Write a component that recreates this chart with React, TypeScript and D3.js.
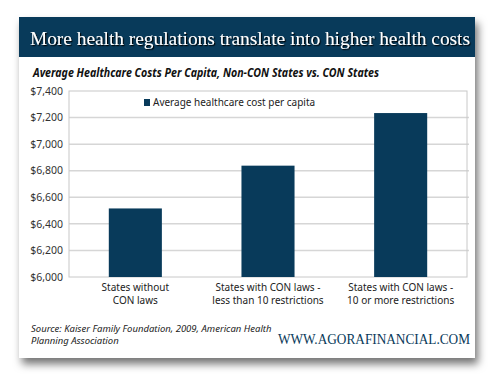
import * as d3 from 'd3';

const categories = [
  ['States without', 'CON laws'],
  ['States with CON laws -', 'less than 10 restrictions'],
  ['States with CON laws -', '10 or more restrictions'],
];
const costs = [6516, 6838, 7234];
const yTicks = [6000, 6200, 6400, 6600, 6800, 7000, 7200, 7400];
const seriesName = 'Average healthcare cost per capita';

const title = 'More health regulations translate into higher health costs';
const subtitle = 'Average Healthcare Costs Per Capita, Non-CON States vs. CON States';
const sourceLines = ['Source:  Kaiser Family Foundation, 2009, American Health', 'Planning Association'];
const brand = 'WWW.AGORAFINANCIAL.COM';

export default function App() {
  const width = 500;
  const height = 385;
  const navy = '#083a5a';
  const sans = "'Noto Sans', 'Open Sans', sans-serif";
  const serif = "'Liberation Serif', 'DejaVu Serif', serif";

  // plot area
  const left = 69;
  const right = 467;
  const top = 91;
  const bottom = 277;

  const x = d3
    .scaleBand<number>()
    .domain(d3.range(categories.length))
    .range([left, right])
    .paddingInner(0.6)
    .paddingOuter(0.3);
  const y = d3.scaleLinear().domain([6000, 7400]).range([bottom, top]);
  const fmt = d3.format('$,');

  return (
    <svg
      width={width}
      height={height}
      viewBox={`0 0 ${width} ${height}`}
      style={{ position: 'absolute', left: 0, top: 0, display: 'block', background: '#fff' }}
    >
      <defs>
        <filter id="cardShadow" x="-10%" y="-10%" width="125%" height="130%">
          <feDropShadow dx="3" dy="6" stdDeviation="4.5" floodColor="#000" floodOpacity="0.55" />
        </filter>
        <filter id="titleShadow" x="-5%" y="-30%" width="110%" height="160%">
          <feDropShadow dx="1.2" dy="1.2" stdDeviation="0.6" floodColor="#000" floodOpacity="0.9" />
        </filter>
      </defs>

      {/* card */}
      <rect x={19} y={17} width={456} height={341} fill="#fff" filter="url(#cardShadow)" />
      <rect x={19} y={17} width={456} height={40} fill={navy} />
      <text
        x={30}
        y={45}
        fill="#fff"
        fontFamily={serif}
        fontSize={19}
        textLength={440}
        lengthAdjust="spacingAndGlyphs"
        filter="url(#titleShadow)"
      >
        {title}
      </text>

      <text
        x={33}
        y={77}
        fontFamily={sans}
        fontSize={11.5}
        fontWeight="bold"
        fontStyle="italic"
        fill="#111"
        textLength={346}
        lengthAdjust="spacingAndGlyphs"
      >
        {subtitle}
      </text>

      {/* grid */}
      {yTicks.map((t) => (
        <g key={t}>
          {t > 6000 && t < 7400 && (
            <line x1={left} x2={right + 2} y1={y(t)} y2={y(t)} stroke="#d6d6d6" strokeWidth={1.5} />
          )}
          <text
            x={63}
            y={y(t)}
            dy="0.35em"
            textAnchor="end"
            fontFamily={sans}
            fontSize={10.5}
            fill="#333"
          >
            {fmt(t)}
          </text>
        </g>
      ))}
      <rect x={left} y={top} width={right - left} height={bottom - top} fill="none" stroke="#c8c8c8" strokeWidth={1} />

      {/* bars */}
      {costs.map((v, i) => (
        <rect key={i} x={x(i)} y={y(v)} width={x.bandwidth()} height={bottom - y(v)} fill={navy} />
      ))}

      {/* legend */}
      <rect x={144} y={99} width={6} height={7} fill={navy} />
      <text x={153} y={106} fontFamily={sans} fontSize={10} fill="#222">
        {seriesName}
      </text>

      {/* category labels */}
      {categories.map((lines, i) => (
        <text
          key={i}
          x={(x(i) ?? 0) + x.bandwidth() / 2}
          y={291}
          textAnchor="middle"
          fontFamily={sans}
          fontSize={10}
          fill="#222"
        >
          {lines.map((l, j) => (
            <tspan key={j} x={(x(i) ?? 0) + x.bandwidth() / 2} dy={j === 0 ? 0 : 13}>
              {l}
            </tspan>
          ))}
        </text>
      ))}

      {/* footer */}
      <text x={31} y={332} fontFamily={sans} fontSize={9.5} fontStyle="italic" fill="#222">
        {sourceLines.map((l, j) => (
          <tspan key={j} x={31} dy={j === 0 ? 0 : 12}>
            {l}
          </tspan>
        ))}
      </text>
      <text
        x={470}
        y={344}
        textAnchor="end"
        fontFamily={serif}
        fontSize={14}
        fill={navy}
        textLength={192}
        lengthAdjust="spacingAndGlyphs"
      >
        {brand}
      </text>
    </svg>
  );
}
